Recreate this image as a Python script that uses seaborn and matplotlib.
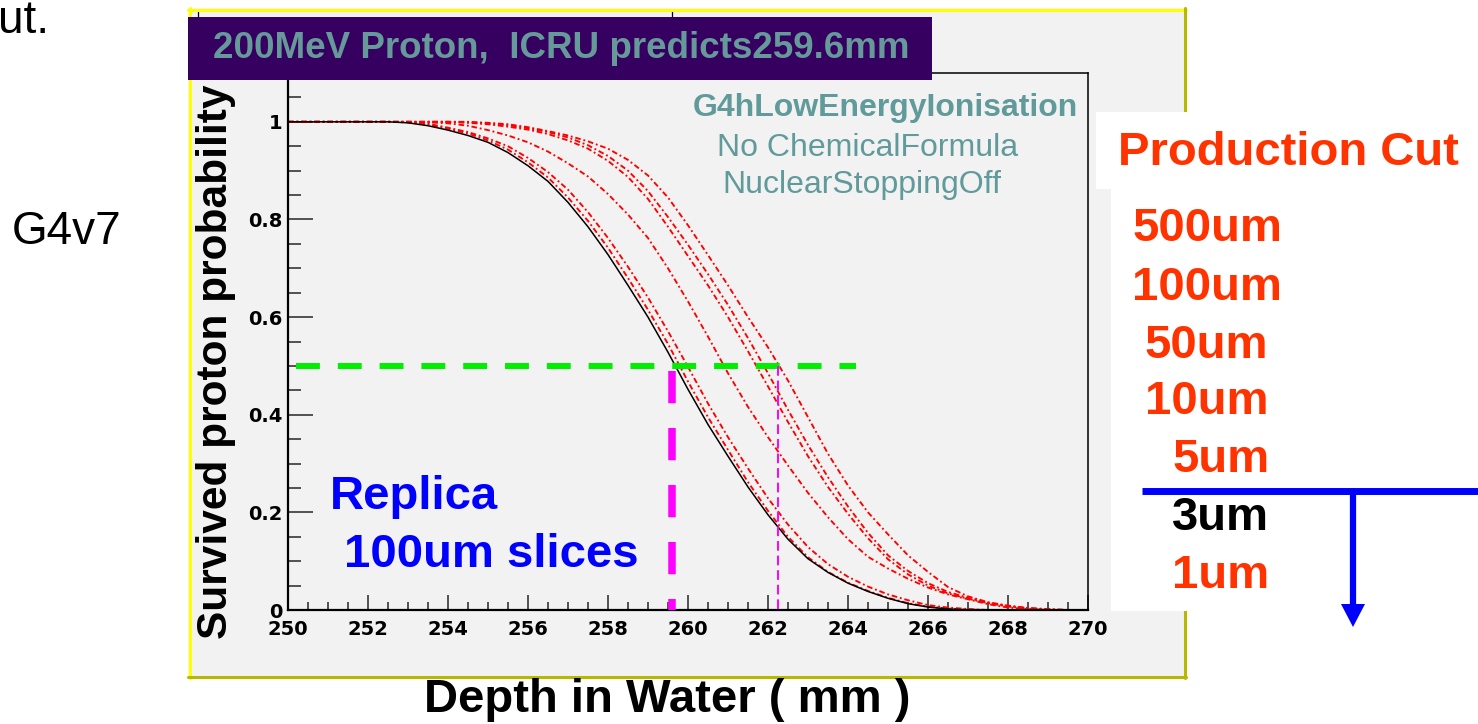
import matplotlib
matplotlib.use("Agg")
import matplotlib.pyplot as plt
import matplotlib.font_manager as fm
from matplotlib.patches import Rectangle, Polygon
from matplotlib.lines import Line2D
from matplotlib.ticker import MultipleLocator, FixedLocator
import seaborn as sns

# ---------------- data ----------------
depth_mm = [250.0, 250.5, 251.0, 251.5, 252.0, 252.5, 253.0, 253.5, 254.0, 254.5,
            255.0, 255.5, 256.0, 256.5, 257.0, 257.5, 258.0, 258.5, 259.0, 259.5,
            260.0, 260.5, 261.0, 261.5, 262.0, 262.5, 263.0, 263.5, 264.0, 264.5,
            265.0, 265.5, 266.0, 266.5, 267.0, 267.5, 268.0, 268.5, 269.0, 269.5, 270.0]

cut_3um = [1, 1, 1, 1, 1, 1, 0.998, 0.992, 0.983, 0.972, 0.958, 0.937, 0.91, 0.878,
           0.835, 0.785, 0.728, 0.665, 0.6, 0.528, 0.452, 0.38, 0.315, 0.252, 0.195,
           0.145, 0.105, 0.077, 0.055, 0.038, 0.024, 0.013, 0.006, 0.002, 0, 0, 0, 0, 0, 0, 0]
cut_1um = [1, 1, 1, 1, 1, 1, 0.999, 0.994, 0.986, 0.976, 0.962, 0.943, 0.917, 0.886,
           0.845, 0.797, 0.742, 0.68, 0.615, 0.545, 0.468, 0.395, 0.328, 0.262, 0.203,
           0.15, 0.108, 0.078, 0.056, 0.039, 0.025, 0.014, 0.007, 0.003, 0.001, 0, 0, 0, 0, 0, 0]
cut_5um = [1, 1, 1, 1, 1, 1, 0.999, 0.996, 0.988, 0.979, 0.966, 0.95, 0.926, 0.897,
           0.861, 0.815, 0.762, 0.703, 0.64, 0.571, 0.498, 0.423, 0.354, 0.29, 0.229,
           0.175, 0.129, 0.094, 0.068, 0.048, 0.032, 0.02, 0.01, 0.005, 0.002, 0, 0, 0, 0, 0, 0]
cut_10um = [1, 1, 1, 1, 1, 1, 1, 0.999, 0.997, 0.992, 0.983, 0.972, 0.958, 0.939,
            0.915, 0.888, 0.852, 0.81, 0.762, 0.7, 0.632, 0.56, 0.485, 0.416, 0.354,
            0.296, 0.24, 0.19, 0.145, 0.109, 0.085, 0.064, 0.046, 0.032, 0.022, 0.012,
            0.005, 0.002, 0, 0, 0]
cut_50um = [1, 1, 1, 1, 1, 1, 1, 1, 1, 0.998, 0.995, 0.99, 0.984, 0.975, 0.962, 0.945,
            0.92, 0.887, 0.842, 0.785, 0.725, 0.665, 0.6, 0.53, 0.458, 0.385, 0.315,
            0.252, 0.197, 0.147, 0.104, 0.073, 0.05, 0.034, 0.023, 0.014, 0.007, 0.003,
            0.001, 0, 0]
cut_100um = [1, 1, 1, 1, 1, 1, 1, 1, 1, 0.999, 0.997, 0.993, 0.987, 0.979, 0.968, 0.952,
             0.93, 0.9, 0.858, 0.805, 0.748, 0.688, 0.625, 0.557, 0.485, 0.41, 0.338,
             0.272, 0.212, 0.158, 0.112, 0.08, 0.055, 0.037, 0.025, 0.015, 0.008, 0.004,
             0.001, 0, 0]
cut_500um = [1, 1, 1, 1, 1, 1, 1, 1, 1, 1, 0.998, 0.995, 0.989, 0.981, 0.972, 0.96,
             0.945, 0.922, 0.89, 0.845, 0.788, 0.727, 0.665, 0.6, 0.538, 0.47, 0.395,
             0.32, 0.255, 0.2, 0.155, 0.112, 0.078, 0.047, 0.028, 0.016, 0.009, 0.004,
             0.002, 0, 0]

red_series = {"500um": cut_500um, "100um": cut_100um, "50um": cut_50um,
              "10um": cut_10um, "5um": cut_5um, "1um": cut_1um}
black_series = {"3um": cut_3um}

x_ticks = [250, 252, 254, 256, 258, 260, 262, 264, 266, 268, 270]
y_ticks = [0, 0.2, 0.4, 0.6, 0.8, 1.0]
y_tick_labels = ["0", "0.2", "0.4", "0.6", "0.8", "1"]

half_level = 0.5
half_line_span = [250.2, 264.2]
icru_range = 259.6
sim_range = 262.25

cut_labels = ["500um", "100um", "50um", "10um", "5um", "3um", "1um"]

# ---------------- style ----------------
sns.set_theme(style="ticks")
plt.rcParams["font.family"] = ["Liberation Sans", "DejaVu Sans"]

def has_font(name):
    try:
        fm.findfont(fm.FontProperties(family=name), fallback_to_default=False)
        return True
    except Exception:
        return False

W, H = 1478, 724
fig = plt.figure(figsize=(W / 100, H / 100), dpi=100)
fig.patch.set_facecolor("white")

def fx(x):
    return x / W

def fy(y):
    return 1 - y / H

# ROOT canvas
fig.add_artist(Rectangle((fx(188), fy(678)), 998 / W, 670 / H, transform=fig.transFigure,
                         facecolor="#f2f2f2", edgecolor="none", zorder=-2))
for (xa, ya, xb, yb) in [(198, 11, 198, 17), (672, 11, 672, 17)]:
    fig.add_artist(Line2D([fx(xa), fx(xb)], [fy(ya), fy(yb)], transform=fig.transFigure,
                          color="black", lw=0.9, zorder=-1))
for (xa, ya, xb, yb, c) in [(188, 9.5, 1186, 9.5, "#ffff00"), (189.5, 8, 189.5, 678, "#ffff00"),
                            (1185, 8, 1185, 678, "#b8b800"), (188, 677, 1186, 677, "#b8b800")]:
    fig.add_artist(Line2D([fx(xa), fx(xb)], [fy(ya), fy(yb)], transform=fig.transFigure,
                          color=c, lw=2.2, zorder=-1))

ax = fig.add_axes([fx(288), fy(610), 800 / W, 537 / H])
ax.set_zorder(1)
ax.set_facecolor("#f2f2f2")

red_style = (0, (3, 1.5, 1, 1.5))
for name, vals in red_series.items():
    sns.lineplot(x=depth_mm, y=vals, ax=ax, color="#ff0000", lw=1.35,
                 linestyle=red_style, errorbar=None)
for name, vals in black_series.items():
    sns.lineplot(x=depth_mm, y=vals, ax=ax, color="black", lw=1.1, errorbar=None)

ax.plot(half_line_span, [half_level, half_level], color="#00ee00", lw=4.3,
        dashes=(4, 3), solid_capstyle="butt", dash_capstyle="butt", zorder=5)
ax.plot([icru_range, icru_range], [0.49, 0], color="#ff00ff", lw=5.4,
        dashes=(4.3, 3.3), dash_capstyle="butt", zorder=5)
ax.plot([sim_range, sim_range], [half_level, 0], color="#ff00ff", lw=1.4,
        dashes=(5, 2.5), dash_capstyle="butt", zorder=5)

ax.set_xlim(250, 270)
ax.set_ylim(0, 1.1)
ax.xaxis.set_major_locator(FixedLocator(x_ticks))
ax.xaxis.set_minor_locator(MultipleLocator(0.5))
ax.yaxis.set_major_locator(FixedLocator(y_ticks))
ax.yaxis.set_minor_locator(MultipleLocator(0.05))
ax.set_yticklabels(y_tick_labels)
ax.set_xticklabels([str(t) for t in x_ticks])

ax.tick_params(axis="y", which="major", direction="in", length=18, width=1.1, pad=4, left=True, right=False)
ax.tick_params(axis="y", which="minor", direction="in", length=9.4, width=1.1, left=True, right=False)
ax.tick_params(axis="x", which="major", direction="in", length=10.8, width=1.1, pad=7, bottom=True, top=False)
ax.tick_params(axis="x", which="minor", direction="in", length=5.8, width=1.1, bottom=True, top=False)
for lab in ax.get_xticklabels() + ax.get_yticklabels():
    lab.set_fontfamily("DejaVu Sans")
    lab.set_fontweight("bold")
    lab.set_fontsize(14)
    lab.set_color("black")

for s in ["left", "bottom"]:
    ax.spines[s].set_linewidth(1.6)
    ax.spines[s].set_color("black")
for s in ["top", "right"]:
    ax.spines[s].set_linewidth(1.1)
    ax.spines[s].set_color("black")

ax.set_ylabel("Survived proton probability", fontsize=30.5, fontweight="bold", color="black")
ax.yaxis.set_label_coords((236 - 288) / 800, (610 - 362) / 537)
ax.set_xlabel("Depth in Water ( mm )", fontsize=34, fontweight="bold", color="black")
ax.xaxis.set_label_coords((667 - 288) / 800, (610 - 678) / 537)

# title pave
fig.add_artist(Rectangle((fx(188), fy(80)), 744 / W, 63 / H, transform=fig.transFigure,
                         facecolor="#35005f", edgecolor="none", zorder=3))
if has_font("Liberation Sans Narrow"):
    fig.text(fx(561), fy(49), "200MeV Proton,  ICRU predicts259.6mm", ha="center", va="center",
             fontsize=31, fontweight="bold", family=["Liberation Sans Narrow"], color="#669999", zorder=4)
else:
    fig.text(fx(561), fy(49), "200MeV Proton,  ICRU predicts259.6mm", ha="center", va="center",
             fontsize=26.5, fontweight="bold", color="#669999", zorder=4)

teal = "#609a9a"
fig.text(fx(1078), fy(108), "G4hLowEnergyIonisation", ha="right", va="center", fontsize=23,
         fontweight="bold", color=teal, zorder=4)
fig.text(fx(868), fy(148), "No ChemicalFormula", ha="center", va="center", fontsize=23,
         color=teal, zorder=4)
fig.text(fx(862), fy(185), "NuclearStoppingOff", ha="center", va="center", fontsize=23,
         color=teal, zorder=4)

fig.text(fx(330), fy(497), "Replica", ha="left", va="center", fontsize=34, fontweight="bold",
         color="#0000ff", zorder=4)
fig.text(fx(344), fy(555), "100um slices", ha="left", va="center", fontsize=34, fontweight="bold",
         color="#0000ff", zorder=4)

# slide texts
fig.text(fx(49), fy(33), "ut.", ha="right", va="baseline", fontsize=33, color="black")
fig.text(fx(12), fy(232), "G4v7", ha="left", va="center", fontsize=33, color="black")

# right panel
fig.add_artist(Rectangle((fx(1096), fy(189)), (W - 1096) / W, 77 / H, transform=fig.transFigure,
                         facecolor="white", edgecolor="none", zorder=3))
fig.add_artist(Rectangle((fx(1111), fy(611)), (W - 1111) / W, 422 / H, transform=fig.transFigure,
                         facecolor="white", edgecolor="none", zorder=3))
orange = "#ff3300"
fig.text(fx(1118), fy(153), "Production Cut", ha="left", va="center", fontsize=34,
         fontweight="bold", color=orange, zorder=4)
cut_x = [1132, 1132, 1145, 1145, 1172, 1172, 1172]
cut_y = [229, 288, 346, 402, 460, 518, 576]
for lab, xx, yy in zip(cut_labels, cut_x, cut_y):
    fig.text(fx(xx), fy(yy), lab, ha="left", va="center", fontsize=34, fontweight="bold",
             color="black" if lab == "3um" else orange, zorder=4)

fig.add_artist(Line2D([fx(1142), fx(W)], [fy(491), fy(491)], transform=fig.transFigure,
                      color="#0000ff", lw=5, solid_capstyle="butt", zorder=5))
fig.add_artist(Line2D([fx(1353), fx(1353)], [fy(491), fy(606)], transform=fig.transFigure,
                      color="#0000ff", lw=4.5, solid_capstyle="butt", zorder=5))
fig.add_artist(Polygon([[fx(1341), fy(604)], [fx(1365), fy(604)], [fx(1353), fy(627)]],
                       closed=True, transform=fig.transFigure, facecolor="#0000ff",
                       edgecolor="none", zorder=5))

fig.savefig("out.png", dpi=100, facecolor="white")
